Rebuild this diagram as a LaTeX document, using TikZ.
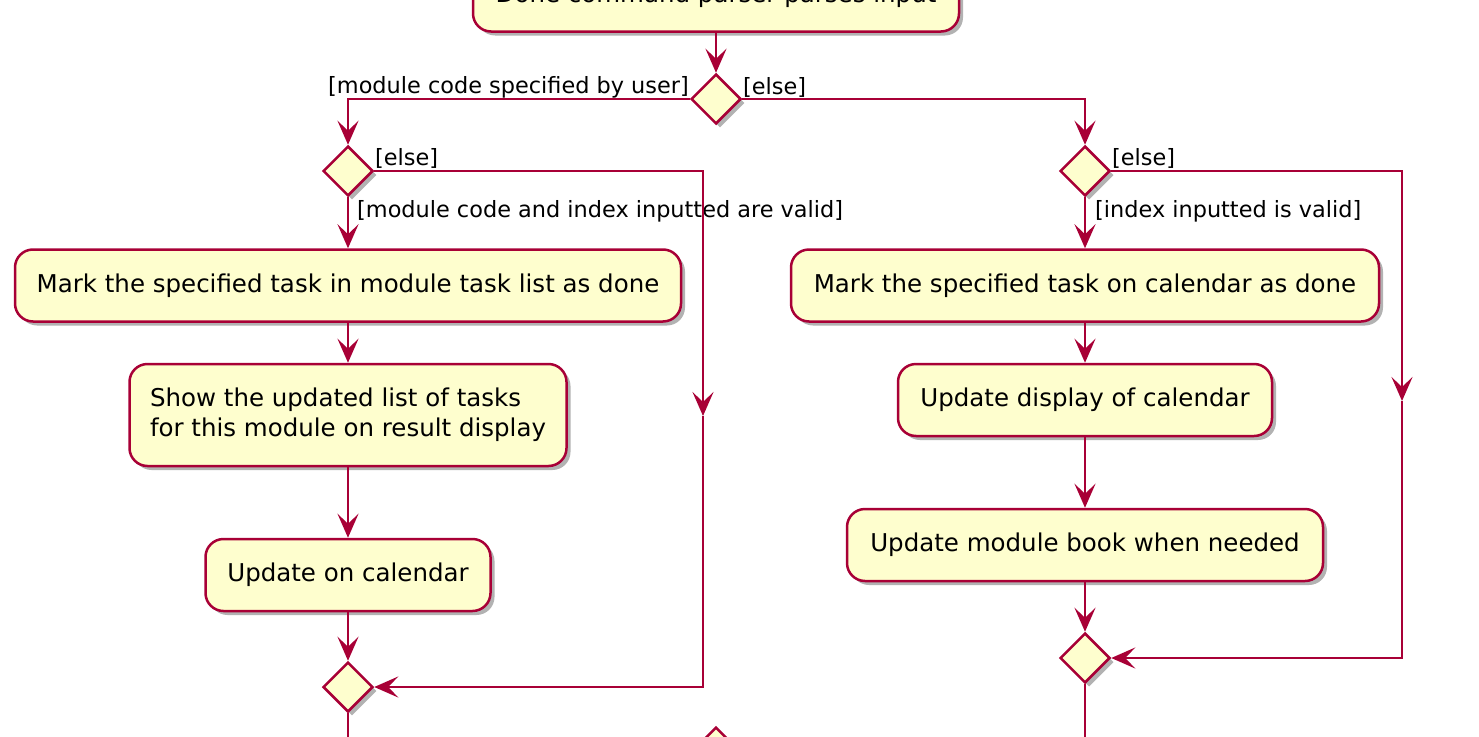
\documentclass[tikz,border=0pt]{standalone}
\usepackage{fontspec}
\setmainfont{DejaVu Sans}
\usetikzlibrary{shapes.geometric,arrows.meta,shadows}

\definecolor{umlred}{HTML}{A80036}
\definecolor{umlfill}{HTML}{FEFECE}

\tikzset{
  action/.style={draw=umlred, fill=umlfill, line width=2.5pt, rounded corners=18pt,
    minimum height=72pt, align=left, font=\fontsize{24.5}{30}\selectfont,
    drop shadow={shadow xshift=4pt, shadow yshift=-4pt, opacity=0.3, fill=black}},
  branch/.style={diamond, draw=umlred, fill=umlfill, line width=2.5pt,
    minimum width=50pt, minimum height=50pt, inner sep=0pt,
    drop shadow={shadow xshift=4pt, shadow yshift=-4pt, opacity=0.3, fill=black}},
  flow/.style={draw=umlred, line width=2.5pt, -{Stealth[length=24pt,width=21pt,inset=10pt]}},
  guard/.style={font=\fontsize{22.4}{26}\selectfont, inner sep=1pt},
}

\begin{document}
\begin{tikzpicture}[x=1pt,y=-1pt]

\path[use as bounding box, clip] (0,0) rectangle (1479,736);

% Parser step and first decision
\node[action, minimum width=486pt] (parse) at (716,-4.5) {Done command parser parses input};
\node[branch] (dmod) at (716,99) {};
\node[guard, anchor=east] at (690,87) {[module code specified by user]};
\node[guard, anchor=west] at (742,87) {[else]};

% Left branch: module task list
\node[branch] (dvalidmod) at (348,171) {};
\node[guard, anchor=west] at (374,158) {[else]};
\node[guard, anchor=west] at (356,211) {[module code and index inputted are valid]};
\node[action, minimum width=666pt] (markmod) at (348,285.5) {Mark the specified task in module task list as done};
\node[action, minimum width=437pt, minimum height=102pt] (showlist) at (348,415) {Show the updated list of tasks\\for this module on result display};
\node[action, minimum width=285pt] (updcal) at (348,575) {Update on calendar};
\node[branch] (mergemod) at (348,687) {};
\coordinate (skipmod) at (703,416);

% Right branch: calendar
\node[branch] (dvalidcal) at (1085,171) {};
\node[guard, anchor=west] at (1111,158) {[else]};
\node[guard, anchor=west] at (1094,211) {[index inputted is valid]};
\node[action, minimum width=588pt] (markcal) at (1085,285.5) {Mark the specified task on calendar as done};
\node[action, minimum width=374pt] (dispcal) at (1085,400) {Update display of calendar};
\node[action, minimum width=476pt] (modbook) at (1085,545) {Update module book when needed};
\node[branch] (mergecal) at (1085,658) {};
\coordinate (skipcal) at (1402,401);

% Final merge, below the frame
\node[branch] (mergeall) at (716,752) {};

% Connectors
\draw[flow] (parse) -- (dmod);
\draw[flow] (dmod.west) -| (dvalidmod.north);
\draw[flow] (dmod.east) -| (dvalidcal.north);

\draw[flow] (dvalidmod) -- (markmod);
\draw[flow] (markmod) -- (showlist);
\draw[flow] (showlist) -- (updcal);
\draw[flow] (updcal) -- (mergemod);
\draw[flow] (dvalidmod.east) -| (skipmod);
\draw[flow] (skipmod) |- (mergemod.east);

\draw[flow] (dvalidcal) -- (markcal);
\draw[flow] (markcal) -- (dispcal);
\draw[flow] (dispcal) -- (modbook);
\draw[flow] (modbook) -- (mergecal);
\draw[flow] (dvalidcal.east) -| (skipcal);
\draw[flow] (skipcal) |- (mergecal.east);

\draw[flow] (mergemod.south) |- (mergeall.west);
\draw[flow] (mergecal.south) |- (mergeall.east);

\end{tikzpicture}
\end{document}
